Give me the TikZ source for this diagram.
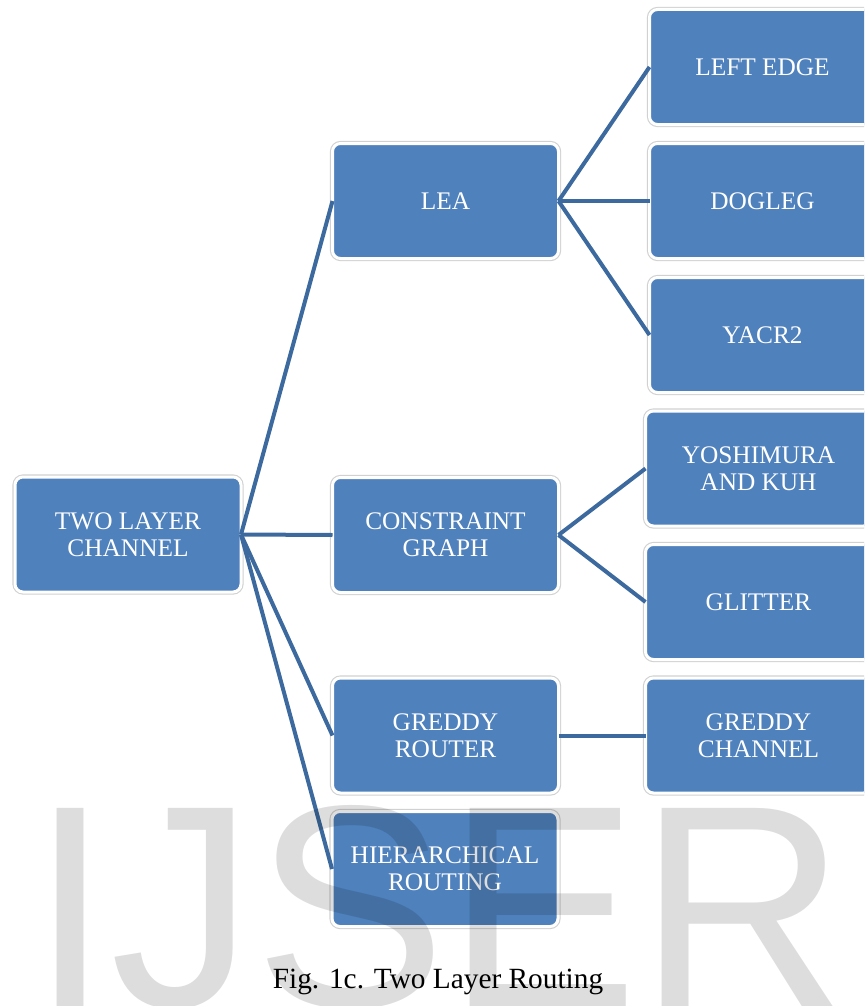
\documentclass[tikz,border=0pt]{standalone}
\usepackage{fontspec}
\setmainfont{Liberation Serif}
\newfontfamily\marksans{Liberation Sans}
\definecolor{boxblue}{HTML}{4F81BD}
\definecolor{lineblue}{HTML}{3D6A9E}

\begin{document}
\begin{tikzpicture}[x=0.75pt, y={(0pt,-0.75pt)}]
\path[use as bounding box, clip] (0,0) rectangle (864,1006);

\coordinate (C_root) at (128, 534.5);
\coordinate (C_lea) at (445.5, 201);
\coordinate (C_cgraph) at (445.5, 535);
\coordinate (C_grouter) at (445.5, 735.5);
\coordinate (C_hier) at (445, 869);
\coordinate (C_leftedge) at (762.5, 67);
\coordinate (C_dogleg) at (762.5, 201);
\coordinate (C_yacr) at (762.5, 335);
\coordinate (C_yoshi) at (758.5, 468.5);
\coordinate (C_glitter) at (758.5, 602);
\coordinate (C_gchannel) at (758.5, 735.5);


\tikzset{BoxStyle/.style = {
 shape = rectangle,
 rounded corners = 6pt,
 fill = boxblue,
 draw = white,
 line width = 2.25pt,
 preaction = {draw = black!18, line width = 3.9pt},
 text = white,
 align = center,
 font = \fontsize{19}{20.25}\selectfont,
 inner sep = 0pt,
 outer sep = 0pt,
 minimum width = 169.5pt,
 minimum height = 86.25pt} }

\node[BoxStyle] (root) at (C_root) {TWO LAYER\\CHANNEL};
\node[BoxStyle] (lea) at (C_lea) {LEA};
\node[BoxStyle] (cgraph) at (C_cgraph) {CONSTRAINT\\GRAPH};
\node[BoxStyle] (grouter) at (C_grouter) {GREDDY\\ROUTER};
\node[BoxStyle] (hier) at (C_hier) {HIERARCHICAL\\ROUTING};
\node[BoxStyle] (leftedge) at (C_leftedge) {LEFT EDGE};
\node[BoxStyle] (dogleg) at (C_dogleg) {DOGLEG};
\node[BoxStyle] (yacr) at (C_yacr) {YACR2};
\node[BoxStyle] (yoshi) at (C_yoshi) {YOSHIMURA\\AND KUH};
\node[BoxStyle] (glitter) at (C_glitter) {GLITTER};
\node[BoxStyle] (gchannel) at (C_gchannel) {GREDDY\\CHANNEL};


\tikzset{EdgeStyle/.style = {draw = lineblue, line width = 3pt} }

\draw[EdgeStyle] (root.east) -- (lea.west);
\draw[EdgeStyle] (root.east) -- (cgraph.west);
\draw[EdgeStyle] (root.east) -- (grouter.west);
\draw[EdgeStyle] (root.east) -- (hier.west);
\draw[EdgeStyle] (lea.east) -- (leftedge.west);
\draw[EdgeStyle] (lea.east) -- (dogleg.west);
\draw[EdgeStyle] (lea.east) -- (yacr.west);
\draw[EdgeStyle] (cgraph.east) -- (yoshi.west);
\draw[EdgeStyle] (cgraph.east) -- (glitter.west);
\draw[EdgeStyle] (grouter.east) -- (gchannel.west);


\node[anchor = base west, inner sep = 0pt, text = black, text opacity = 0.135,
 font = \marksans\fontsize{216}{216}\selectfont] (mark) at (30, 1006) {IJSER};

\node[anchor = base, inner sep = 0pt, font = \fontsize{22}{26}\selectfont]
 (caption) at (438, 988) {Fig. 1c. Two Layer Routing};

\end{tikzpicture}
\end{document}
